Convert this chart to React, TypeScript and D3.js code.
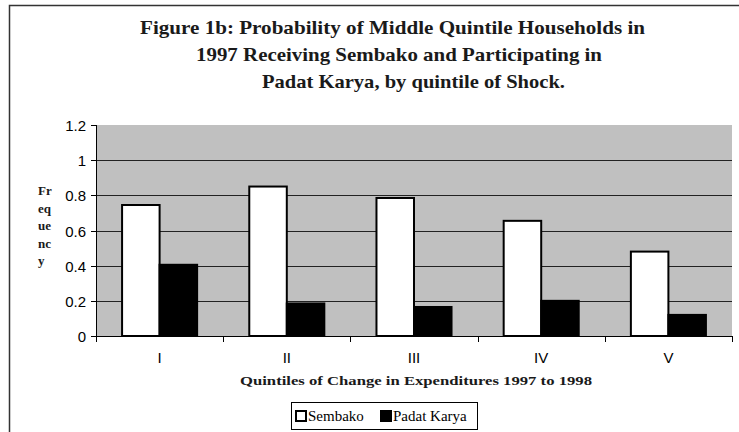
import React from "react";
import * as d3 from "d3";

// quintiles of shock
const quintiles = ["I", "II", "III", "IV", "V"];
const seriesNames = ["Sembako", "Padat Karya"];
const sembako = [0.745, 0.85, 0.785, 0.655, 0.48];
const padatKarya = [0.405, 0.185, 0.165, 0.2, 0.12];
const yTicks = [0, 0.2, 0.4, 0.6, 0.8, 1, 1.2];
const titleLines = [
  "Figure 1b: Probability of Middle Quintile Households in",
  "1997 Receiving Sembako and Participating in",
  "Padat Karya, by quintile of Shock.",
];
const yLabelLines = ["Fr", "eq", "ue", "nc", "y"];
const xTitle = "Quintiles of Change in Expenditures 1997 to 1998";

const W = 739;
const H = 432;
const plot = { left: 96, right: 732, top: 125, bottom: 336 };
const serif = "'Liberation Serif', 'Times New Roman', serif";
const sans = "'Liberation Sans', Arial, sans-serif";

const App = () => {
  const x0 = d3
    .scaleBand<string>()
    .domain(quintiles)
    .range([plot.left, plot.right])
    .padding(0);
  const bw = x0.bandwidth();
  const x1 = d3
    .scaleBand<string>()
    .domain(seriesNames)
    .range([bw * 0.205, bw * 0.795])
    .padding(0);
  const y = d3.scaleLinear().domain([0, 1.2]).range([plot.bottom, plot.top]);

  const rows = quintiles.map((q, i) => ({ q, values: [sembako[i], padatKarya[i]] }));
  const fills = ["#ffffff", "#000000"];

  // title line placements (start x, length, baseline)
  const titlePos = [
    { x: 140, len: 505, y: 34 },
    { x: 196, len: 406, y: 61 },
    { x: 262, len: 303, y: 88 },
  ];

  return (
    <svg
      width={W}
      height={H}
      style={{ position: "absolute", left: 0, top: 0, display: "block", background: "#fff" }}
    >
      {/* outer frame */}
      <path d={`M9.5,${H} V5.5 H${W}`} fill="none" stroke="#333" strokeWidth={1.5} />

      {titleLines.map((t, i) => (
        <text
          key={i}
          x={titlePos[i].x}
          y={titlePos[i].y}
          textLength={titlePos[i].len}
          lengthAdjust="spacingAndGlyphs"
          fontFamily={serif}
          fontWeight="bold"
          fontSize={19}
          fill="#1a1a1a"
        >
          {t}
        </text>
      ))}

      {/* plot background */}
      <rect
        x={plot.left}
        y={plot.top}
        width={plot.right - plot.left}
        height={plot.bottom - plot.top}
        fill="#c0c0c0"
      />

      {/* gridlines */}
      {yTicks
        .filter(t => t > 0 && t < 1.2)
        .map(t => (
          <line
            key={t}
            x1={plot.left}
            x2={plot.right}
            y1={Math.round(y(t)) + 0.5}
            y2={Math.round(y(t)) + 0.5}
            stroke="#222"
            strokeWidth={1}
          />
        ))}

      {/* bars */}
      {rows.map(r => (
        <g key={r.q} transform={`translate(${x0(r.q)},0)`}>
          {r.values.map((v, j) => (
            <rect
              key={j}
              x={x1(seriesNames[j])}
              y={y(v)}
              width={x1.bandwidth()}
              height={y(0) - y(v)}
              fill={fills[j]}
              stroke="#000"
              strokeWidth={2}
            />
          ))}
        </g>
      ))}

      {/* y axis */}
      <line x1={plot.left + 0.5} x2={plot.left + 0.5} y1={plot.top} y2={plot.bottom} stroke="#000" />
      {yTicks.map(t => (
        <g key={t} transform={`translate(0,${Math.round(y(t)) + 0.5})`}>
          <line x1={plot.left - 5} x2={plot.left} stroke="#000" />
          <text
            x={plot.left - 10}
            dy="0.35em"
            textAnchor="end"
            fontFamily={sans}
            fontSize={15}
            fill="#000"
          >
            {d3.format("~g")(t)}
          </text>
        </g>
      ))}

      {/* x axis */}
      <line x1={plot.left} x2={plot.right} y1={plot.bottom + 0.5} y2={plot.bottom + 0.5} stroke="#000" />
      {[...quintiles.map(q => x0(q) as number), plot.right].map((xv, i) => (
        <line
          key={i}
          x1={Math.round(xv) + 0.5}
          x2={Math.round(xv) + 0.5}
          y1={plot.bottom}
          y2={plot.bottom + 6}
          stroke="#000"
        />
      ))}
      {quintiles.map(q => (
        <text
          key={q}
          x={(x0(q) as number) + bw / 2}
          y={363}
          textAnchor="middle"
          fontFamily={sans}
          fontSize={15}
          fill="#000"
        >
          {q}
        </text>
      ))}

      {/* axis titles */}
      <text
        x={240}
        y={385}
        textLength={352}
        lengthAdjust="spacingAndGlyphs"
        fontFamily={serif}
        fontWeight="bold"
        fontSize={13}
        fill="#1a1a1a"
      >
        {xTitle}
      </text>
      {yLabelLines.map((l, i) => (
        <text
          key={l}
          x={38}
          y={195 + i * 17.5}
          fontFamily={serif}
          fontWeight="bold"
          fontSize={13}
          fill="#1a1a1a"
        >
          {l}
        </text>
      ))}

      {/* legend */}
      <rect x={291.5} y={402.5} width={186} height={27} fill="#fff" stroke="#000" />
      {seriesNames.map((s, i) => {
        const lx = i === 0 ? 295 : 380;
        return (
          <g key={s}>
            <rect
              x={lx + 1}
              y={411}
              width={10}
              height={10}
              fill={fills[i]}
              stroke="#000"
              strokeWidth={2}
            />
            <text x={lx + 13} y={421} fontFamily={serif} fontSize={15} fill="#000">
              {s}
            </text>
          </g>
        );
      })}
    </svg>
  );
};

export default App;
